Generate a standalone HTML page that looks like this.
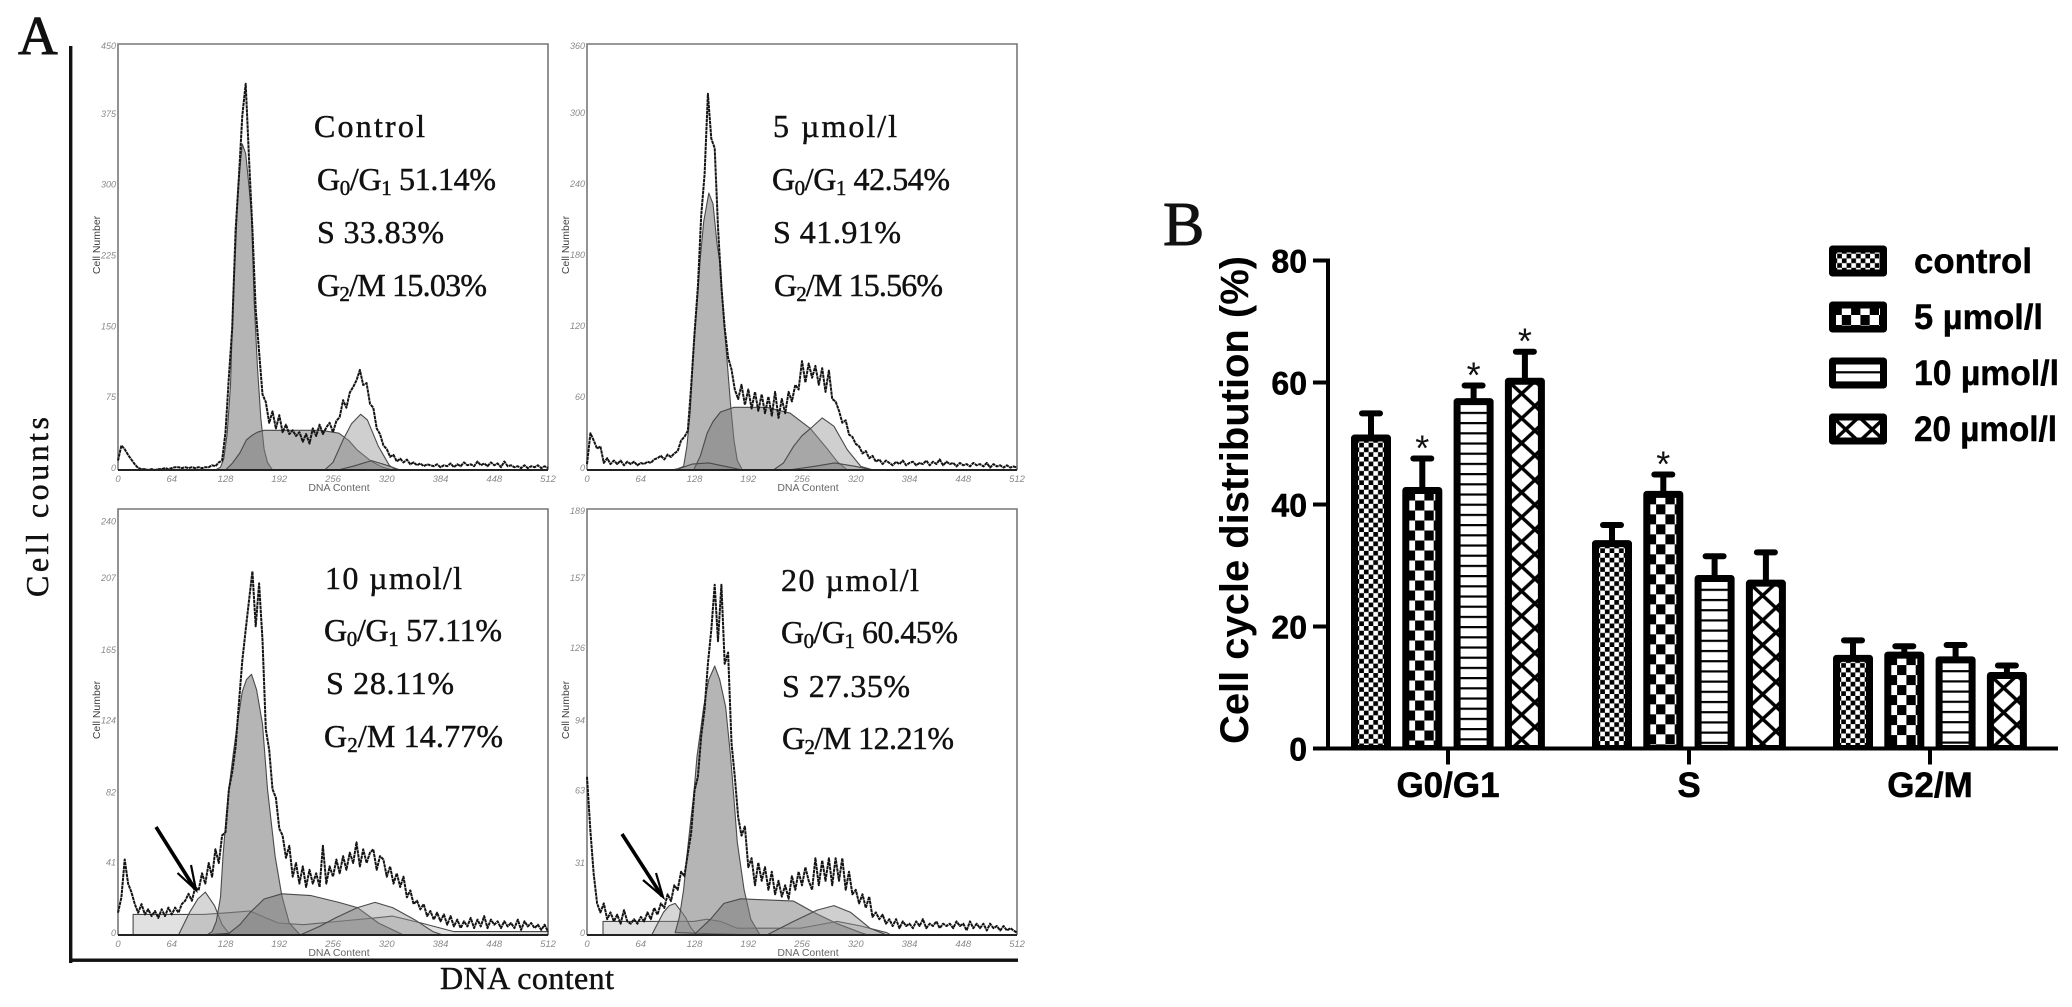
<!DOCTYPE html>
<html lang="en">
<head>
<meta charset="utf-8">
<title>Cell cycle distribution</title>
<style>
html,body{margin:0;padding:0;background:#fff;}
svg{display:block;}
.mono{font-family:"Liberation Serif","Noto Serif CJK SC",serif;fill:#111;stroke:#111;stroke-width:.45;}
.serif{font-family:"Liberation Serif",serif;fill:#111;stroke:#111;stroke-width:.9;}
.sans{font-family:"Liberation Sans",sans-serif;}
</style>
</head>
<body>
<svg id="figure" width="2072" height="1007" viewBox="0 0 2072 1007" xmlns="http://www.w3.org/2000/svg">
<defs>
<pattern id="pat-control" patternUnits="userSpaceOnUse" width="9.4" height="9.4">
<rect width="9.4" height="9.4" fill="#fff"/><rect width="4.7" height="4.7" fill="#000"/><rect x="4.7" y="4.7" width="4.7" height="4.7" fill="#000"/>
</pattern>
<pattern id="pat-5" patternUnits="userSpaceOnUse" width="18.6" height="20">
<rect width="18.6" height="20" fill="#fff"/><rect width="9.3" height="10" fill="#000"/><rect x="9.3" y="10" width="9.3" height="10" fill="#000"/>
</pattern>
<pattern id="pat-10" patternUnits="userSpaceOnUse" width="10" height="10.2">
<rect width="10" height="10.2" fill="#fff"/><rect y="0" width="10" height="2.2" fill="#000"/>
</pattern>
<pattern id="pat-20" patternUnits="userSpaceOnUse" width="26.5" height="24.7">
<rect width="26.5" height="24.7" fill="#fff"/>
<path d="M0 0L26.5 24.7M26.5 0L0 24.7M-5 -4.66L5 4.66M21.5 20L31.5 29.4M31.5 -4.66L21.5 4.66M5 20L-5 29.4" stroke="#000" stroke-width="3.4" fill="none"/>
</pattern>
</defs>

<rect width="2072" height="1007" fill="#fff"/>

<g id="panel-a"></g>

<text class="serif" x="18" y="54" font-size="55">A</text>
<text class="serif" x="1163" y="245" font-size="62">B</text>

<rect x="69" y="46" width="3.4" height="917" fill="#111"/>
<rect x="70" y="958.5" width="948" height="3.4" fill="#111"/>
<text class="mono" transform="translate(48,597) rotate(-90)" font-size="32" textLength="180" lengthAdjust="spacing">Cell counts</text>
<text class="mono" x="440" y="989" font-size="32" textLength="174" lengthAdjust="spacing">DNA content</text>

<g>
<text class="mono" x="314" y="137" font-size="32" textLength="111" lengthAdjust="spacing">Control</text>
<text class="mono" x="317" y="190" font-size="32" textLength="179" lengthAdjust="spacing">G<tspan font-size="21" dy="5">0</tspan><tspan dy="-5">/G</tspan><tspan font-size="21" dy="5">1</tspan><tspan dy="-5"> 51.14%</tspan></text>
<text class="mono" x="317" y="243" font-size="32" textLength="127" lengthAdjust="spacing">S 33.83%</text>
<text class="mono" x="317" y="296" font-size="32" textLength="170" lengthAdjust="spacing">G<tspan font-size="21" dy="5">2</tspan><tspan dy="-5">/M 15.03%</tspan></text>
</g>
<g>
<text class="mono" x="773" y="137" font-size="32" textLength="124" lengthAdjust="spacing">5 µmol/l</text>
<text class="mono" x="772" y="190" font-size="32" textLength="178" lengthAdjust="spacing">G<tspan font-size="21" dy="5">0</tspan><tspan dy="-5">/G</tspan><tspan font-size="21" dy="5">1</tspan><tspan dy="-5"> 42.54%</tspan></text>
<text class="mono" x="773" y="243" font-size="32" textLength="128" lengthAdjust="spacing">S 41.91%</text>
<text class="mono" x="774" y="296" font-size="32" textLength="169" lengthAdjust="spacing">G<tspan font-size="21" dy="5">2</tspan><tspan dy="-5">/M 15.56%</tspan></text>
</g>
<g>
<text class="mono" x="325" y="589" font-size="32" textLength="137" lengthAdjust="spacing">10 µmol/l</text>
<text class="mono" x="324" y="641" font-size="32" textLength="178" lengthAdjust="spacing">G<tspan font-size="21" dy="5">0</tspan><tspan dy="-5">/G</tspan><tspan font-size="21" dy="5">1</tspan><tspan dy="-5"> 57.11%</tspan></text>
<text class="mono" x="326" y="694" font-size="32" textLength="128" lengthAdjust="spacing">S 28.11%</text>
<text class="mono" x="324" y="747" font-size="32" textLength="179" lengthAdjust="spacing">G<tspan font-size="21" dy="5">2</tspan><tspan dy="-5">/M 14.77%</tspan></text>
</g>
<g>
<text class="mono" x="781" y="591" font-size="32" textLength="138" lengthAdjust="spacing">20 µmol/l</text>
<text class="mono" x="781" y="643" font-size="32" textLength="177" lengthAdjust="spacing">G<tspan font-size="21" dy="5">0</tspan><tspan dy="-5">/G</tspan><tspan font-size="21" dy="5">1</tspan><tspan dy="-5"> 60.45%</tspan></text>
<text class="mono" x="782" y="697" font-size="32" textLength="128" lengthAdjust="spacing">S 27.35%</text>
<text class="mono" x="782" y="749" font-size="32" textLength="172" lengthAdjust="spacing">G<tspan font-size="21" dy="5">2</tspan><tspan dy="-5">/M 12.21%</tspan></text>
</g>

<g stroke="#000" fill="none">
<path d="M156 827L195 889" stroke-width="3.6"/>
<path d="M177.5 873L196 890L191 865" stroke-width="2.2"/>
</g>
<g stroke="#000" fill="none">
<path d="M622 834L662 896" stroke-width="3.6"/>
<path d="M643 880L663 897L656 873" stroke-width="2.2"/>
</g>

<g id="panel-b"></g>
</svg>

<script>
/* ---------- Panel A: histogram data (channel step is 4) ---------- */
const channelStep = 4;
const xTickLabels = [0, 64, 128, 192, 256, 320, 384, 448, 512];

const controlTicks = [450, 375, 300, 225, 150, 75, 0];
const dose5Ticks = [360, 300, 240, 180, 120, 60, 0];
const dose10Ticks = [240, 207, 165, 124, 82, 41, 0];
const dose20Ticks = [189, 157, 126, 94, 63, 31, 0];

const controlTrace = [10,26,22,16,11,6,2,1,1,0,1,0,1,1,2,1,2,3,3,2,3,2,3,2,3,2,3,3,5,4,8,10,40,99,150,254,310,375,409,330,255,170,125,80,72,50,62,44,58,40,48,38,42,36,40,30,38,28,44,36,48,38,45,50,40,52,56,74,66,82,88,95,106,90,92,70,66,44,38,26,22,14,16,9,12,8,11,6,8,5,7,4,6,5,4,6,3,5,4,7,3,6,4,8,5,6,4,9,5,7,4,8,5,7,3,9,4,5,3,4,2,5,2,4,3,5,2,4,2];
const dose5Trace = [5,31,25,18,20,6,10,5,8,5,8,4,7,5,7,4,6,5,7,6,9,10,12,9,13,11,14,16,25,28,33,70,115,155,215,250,318,280,272,205,155,120,95,85,68,60,72,55,68,52,66,50,64,48,62,46,66,44,60,48,66,58,72,68,92,74,90,78,88,72,86,66,84,60,58,50,40,42,30,28,22,20,14,16,10,12,7,9,5,8,6,4,7,5,8,4,6,7,4,6,5,8,4,7,5,9,4,7,5,6,3,6,4,5,3,6,4,5,3,6,2,5,3,4,2,4,2,3,2];
const dose10Trace = [13,22,44,30,25,18,13,18,12,15,11,14,10,15,11,16,12,16,13,18,20,24,20,28,26,36,30,42,34,50,42,58,60,85,95,110,135,160,178,195,212,180,205,172,120,108,85,80,62,58,45,52,34,42,30,40,28,38,30,36,28,52,30,40,34,44,36,46,38,48,42,54,40,50,42,48,50,38,46,44,34,40,30,36,28,34,22,26,18,20,15,18,11,14,9,13,8,12,6,11,5,9,4,8,5,10,4,9,5,11,4,9,6,8,4,8,5,7,4,9,3,8,5,7,4,6,3,6,2];
const dose20Trace = [70,46,27,14,10,14,7,10,6,9,5,11,6,5,7,5,8,6,10,7,12,9,14,12,18,15,22,20,28,26,36,45,64,70,88,100,120,135,155,130,155,120,125,85,70,52,44,48,30,34,22,32,24,30,20,28,18,24,17,22,16,26,20,28,22,30,24,20,34,22,33,24,34,22,34,24,34,20,28,18,20,14,18,12,17,8,10,7,9,5,7,4,7,3,6,4,5,3,6,4,7,3,5,4,6,3,5,4,5,3,6,4,5,2,6,3,5,3,5,2,5,3,4,2,4,2,3,2,1];

const controlG1 = [[116,0],[122,3],[126,12],[130,39],[134,90],[137,180],[140,235],[143,300],[148,345],[152,335],[156,300],[159,270],[162,180],[166,110],[170,55],[174,22],[178,8],[184,0]];
const controlS = [[128,0],[136,7],[145,18],[153,32],[160,37],[166,40],[174,42],[200,42],[242,42],[263,39],[275,31],[285,21],[302,9],[315,3],[327,0]];
const controlG2 = [[246,0],[256,8],[268,32],[278,49],[289,59],[297,53],[310,25],[323,5],[331,0]];
const controlDebris = [[262,0],[280,4],[302,10],[320,5],[336,0]];

const dose5G1 = [[100,0],[108,1],[115,3],[119,20],[123,50],[127,105],[131,140],[135,180],[139,210],[145,234],[150,225],[155,190],[159,172],[163,125],[167,90],[171,55],[175,25],[179,8],[185,0]];
const dose5S = [[127,0],[135,12],[143,31],[150,41],[159,49],[175,53],[214,53],[242,48],[266,35],[286,18],[298,7],[310,0]];
const dose5G2 = [[222,0],[234,6],[246,20],[256,29],[266,35],[280,44],[294,37],[310,17],[326,3],[341,0]];
const dose5Debris = [[105,0],[125,5],[145,6],[165,3],[185,0],[240,0],[270,3],[295,6],[320,3],[340,0]];

const dose10G1 = [[106,0],[112,2],[117,8],[122,22],[125,46],[129,70],[132,85],[137,105],[142,123],[148,142],[153,149],[159,152],[165,143],[172,123],[178,85],[187,46],[195,23],[204,7],[217,0]];
const dose10Apop = [[72,0],[85,13],[95,21],[104,25],[115,17],[124,6],[132,1],[136,0]];
const dose10S = [[102,0],[132,1],[145,6],[157,13],[174,21],[195,24],[230,23],[263,19],[285,16],[310,7],[340,0]];
const dose10G2 = [[217,0],[240,5],[259,10],[285,16],[306,19],[327,16],[353,9],[375,2],[387,0]];
const dose10Debris = [[18,0],[18,12],[102,12],[132,13],[157,14],[176,10],[191,7],[221,6],[263,8],[306,10],[327,11],[361,7],[400,2],[512,2],[512,0]];

const dose20G1 = [[105,1],[110,8],[115,20],[119,35],[123,49],[127,62],[131,79],[135,90],[139,101],[145,113],[152,119],[158,113],[165,101],[171,79],[175,60],[179,41],[187,20],[195,7],[206,0]];
const dose20Apop = [[77,0],[91,10],[98,13],[105,14],[117,8],[124,3],[131,0]];
const dose20S = [[127,0],[147,7],[163,14],[183,16],[246,15],[270,10],[298,5],[326,1],[335,0]];
const dose20G2 = [[214,0],[246,6],[274,11],[294,13],[314,10],[337,3],[357,0]];
const dose20Debris = [[19,0],[19,6],[127,6],[143,7],[159,6],[179,3],[214,3],[254,3],[298,6],[326,4],[357,1],[362,0]];

/* ---------- Panel B: bar data ---------- */
const phaseCategories = ['G0/G1', 'S', 'G2/M'];
const valueTicks = [0, 20, 40, 60, 80];
const seriesNames = ['control', '5 µmol/l', '10 µmol/l', '20 µmol/l'];
const controlValues = [51.14, 33.83, 15.03];
const dose5Values = [42.54, 41.91, 15.56];
const dose10Values = [57.11, 28.11, 14.77];
const dose20Values = [60.45, 27.35, 12.21];
const controlErrors = [3.8, 2.8, 2.7];
const dose5Errors = [5.0, 3.0, 1.2];
const dose10Errors = [2.4, 3.4, 2.2];
const dose20Errors = [4.6, 4.8, 1.4];
const controlStars = [0, 0, 0];
const dose5Stars = [1, 1, 0];
const dose10Stars = [1, 0, 0];
const dose20Stars = [1, 0, 0];

/* ---------- helpers ---------- */
const NS = 'http://www.w3.org/2000/svg';
function make(tag, attrs, parent, text) {
  const el = document.createElementNS(NS, tag);
  for (const k in attrs) el.setAttribute(k, attrs[k]);
  if (text !== undefined) el.textContent = text;
  parent.appendChild(el);
  return el;
}

/* ---------- Panel A ---------- */
const panelA = document.getElementById('panel-a');
const histWidth = 430, histHeight = 426;

function drawHistogram(cfg) {
  const xs = c => cfg.left + c * histWidth / 512;
  const ys = v => cfg.base - v * histHeight / cfg.scaleMax;
  const g = make('g', {}, panelA);
  
  

  const frame = make('path', {d: `M${cfg.left} ${cfg.base}V${cfg.base - histHeight}H${cfg.left + histWidth}V${cfg.base}`, fill: 'none', stroke: '#777', 'stroke-width': 1.6}, g);
  
  

  cfg.components.forEach(comp => {
    const pts = comp.points.map(p => xs(p[0]).toFixed(1) + ',' + ys(p[1]).toFixed(1)).join(' ');
    const poly = make('polygon', {points: pts, fill: comp.fill, 'fill-opacity': comp.opacity, stroke: '#4a4a4a', 'stroke-width': 1.1, 'stroke-linejoin': 'round'}, g);
    
    
  });

  const tracePts = cfg.trace.map((v, i) => xs(Math.min(i * channelStep, 512)).toFixed(1) + ',' + ys(v).toFixed(1)).join(' ');
  const line = make('polyline', {points: tracePts, fill: 'none', stroke: '#141414', 'stroke-width': 2, 'stroke-linejoin': 'round', 'stroke-dasharray': '3.4 .6'}, g);
  
  

  const baseLine = make('rect', {x: cfg.left, y: cfg.base - 1, width: histWidth, height: 2, fill: '#222'}, g);
  
  

  cfg.ticks.forEach(t => {
    const lab = make('text', {x: cfg.left - 2, y: Math.max(ys(t), cfg.base - histHeight + 4) + 1, 'text-anchor': 'end', 'font-size': 9, 'font-style': 'italic', fill: '#8a8a8a', class: 'sans'}, g, String(t));
    
    
  });
  xTickLabels.forEach(t => {
    const lab = make('text', {x: xs(t), y: cfg.base + 12, 'text-anchor': 'middle', 'font-size': 9.5, 'font-style': 'italic', fill: '#8a8a8a', class: 'sans'}, g, String(t));
    
    
  });

  const xt = make('text', {x: cfg.left + 221, y: cfg.base + 21, 'text-anchor': 'middle', 'font-size': 10.5, fill: '#666', class: 'sans'}, g, 'DNA Content');
  
  

  const yt = make('text', {transform: `translate(${cfg.left - 18},${cfg.base - 225}) rotate(-90)`, 'text-anchor': 'middle', 'font-size': 10.5, fill: '#444', class: 'sans'}, g, 'Cell Number');
  
  
}

const g1Fill = '#808080', sFill = '#7c7c7c', g2Fill = '#8c8c8c', smallFill = '#777';
drawHistogram({name: 'control', left: 118, base: 470, scaleMax: 451, ticks: controlTicks, trace: controlTrace,
  components: [
    {label: 'g1', points: controlG1, fill: g1Fill, opacity: .58},
    {label: 's', points: controlS, fill: sFill, opacity: .52},
    {label: 'g2', points: controlG2, fill: g2Fill, opacity: .42},
    {label: 'debris', points: controlDebris, fill: smallFill, opacity: .3}]});
drawHistogram({name: 'dose-5', left: 587, base: 470, scaleMax: 360, ticks: dose5Ticks, trace: dose5Trace,
  components: [
    {label: 'g1', points: dose5G1, fill: g1Fill, opacity: .58},
    {label: 's', points: dose5S, fill: sFill, opacity: .52},
    {label: 'g2', points: dose5G2, fill: g2Fill, opacity: .42},
    {label: 'debris', points: dose5Debris, fill: smallFill, opacity: .3}]});
drawHistogram({name: 'dose-10', left: 118, base: 935, scaleMax: 248.4, ticks: dose10Ticks, trace: dose10Trace,
  components: [
    {label: 'debris', points: dose10Debris, fill: smallFill, opacity: .22},
    {label: 'apoptotic', points: dose10Apop, fill: '#999', opacity: .4},
    {label: 'g1', points: dose10G1, fill: g1Fill, opacity: .58},
    {label: 's', points: dose10S, fill: sFill, opacity: .52},
    {label: 'g2', points: dose10G2, fill: g2Fill, opacity: .42}]});
drawHistogram({name: 'dose-20', left: 587, base: 935, scaleMax: 188.5, ticks: dose20Ticks, trace: dose20Trace,
  components: [
    {label: 'debris', points: dose20Debris, fill: smallFill, opacity: .22},
    {label: 'apoptotic', points: dose20Apop, fill: '#999', opacity: .4},
    {label: 'g1', points: dose20G1, fill: g1Fill, opacity: .58},
    {label: 's', points: dose20S, fill: sFill, opacity: .52},
    {label: 'g2', points: dose20G2, fill: g2Fill, opacity: .42}]});

/* ---------- Panel B ---------- */
const panelB = document.getElementById('panel-b');
const axisX = 1328, axisY = 748.5, axisEnd = 2058, pxPerUnit = 6.1;
const groupStart = 1351, groupPitch = 241, barPitch = 51.3, barWidth = 40, barStroke = 7, barTopPad = 2;
const valueY = v => axisY - v * pxPerUnit;
const barX = (cat, s) => groupStart + cat * groupPitch + s * barPitch;
const patterns = ['pat-control', 'pat-5', 'pat-10', 'pat-20'];
const allValues = [controlValues, dose5Values, dose10Values, dose20Values];
const allErrors = [controlErrors, dose5Errors, dose10Errors, dose20Errors];
const allStars = [controlStars, dose5Stars, dose10Stars, dose20Stars];

phaseCategories.forEach((cat, c) => {
  allValues.forEach((vals, s) => {
    const v = vals[c], e = allErrors[s][c];
    const x = barX(c, s), cx = x + barWidth / 2, topY = valueY(v) - barTopPad, capY = valueY(v + e);
    const stem = make('rect', {x: cx - 3, y: capY, width: 6, height: topY - capY + 2, fill: '#000'}, panelB);
    
    
    const cap = make('rect', {x: cx - 12, y: capY - 3, width: 24, height: 6, rx: 3, fill: '#000'}, panelB);
    
    
    const bar = make('rect', {
      transform: `translate(${x + barStroke / 2},${topY + barStroke / 2})`,
      width: barWidth - barStroke, height: axisY - topY - barStroke / 2,
      fill: `url(#${patterns[s]})`, stroke: '#000', 'stroke-width': barStroke, 'stroke-linejoin': 'round'
    }, panelB);
    
    
    if (allStars[s][c]) {
      const star = make('text', {x: cx, y: capY + 2, 'text-anchor': 'middle', 'font-size': 36, fill: '#111', class: 'sans'}, panelB, '*');
      
      
    }
  });
});

const belowAxisCover = make('rect', {x: axisX + 3, y: axisY + 1, width: axisEnd - axisX, height: 6, fill: '#fff'}, panelB);



phaseCategories.forEach((cat, c) => {
  const cx = barX(c, 0) + 97;
  const tick = make('rect', {x: cx - 2, y: axisY, width: 4, height: 16, fill: '#000'}, panelB);
  
  
  const lab = make('text', {x: cx, y: 797, 'text-anchor': 'middle', 'font-size': 35, 'font-weight': 'bold', fill: '#000', stroke: '#000', 'stroke-width': .5, class: 'sans'}, panelB, cat);
  
  
});

const yLine = make('rect', {x: axisX - 2, y: valueY(80) - 2, width: 4, height: axisY - valueY(80) + 4, fill: '#000'}, panelB);


const xLine = make('rect', {x: axisX - 15, y: axisY - 2, width: axisEnd - axisX + 15, height: 4, fill: '#000'}, panelB);



valueTicks.forEach(t => {
  const tk = make('rect', {x: axisX - 15, y: valueY(t) - 2, width: 15, height: 4, fill: '#000'}, panelB);
  
  
  const lab = make('text', {x: 1307, y: valueY(t) + 12, 'text-anchor': 'end', 'font-size': 32, 'font-weight': 'bold', fill: '#000', stroke: '#000', 'stroke-width': .5, class: 'sans'}, panelB, String(t));
  
  
});

const yTitle = make('text', {transform: 'translate(1248,744) rotate(-90)', 'font-size': 40, 'font-weight': 'bold', fill: '#000', class: 'sans', textLength: 488, lengthAdjust: 'spacingAndGlyphs'}, panelB, 'Cell cycle distribution (%)');



const legendTop = 245.5, legendPitch = 56, legendTextWidths = [118, 129, 145, 143];
seriesNames.forEach((name, s) => {
  const y = legendTop + s * legendPitch;
  const sw = make('rect', {
    transform: `translate(${1829 + 3.5},${y + 3.5})`, width: 51, height: 24,
    fill: `url(#${patterns[s]})`, stroke: '#000', 'stroke-width': 7, 'stroke-linejoin': 'round'
  }, panelB);
  
  
  const tx = make('text', {x: 1914, y: y + 27.5, 'font-size': 35, 'font-weight': 'bold', fill: '#000', stroke: '#000', 'stroke-width': .4, class: 'sans', textLength: legendTextWidths[s], lengthAdjust: 'spacingAndGlyphs'}, panelB, name);
  
  
});
</script>
</body>
</html>
